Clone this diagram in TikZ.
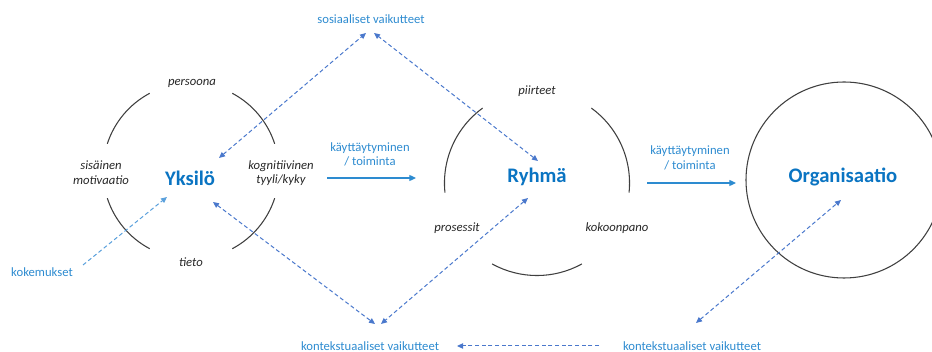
\documentclass[tikz,border=0pt]{standalone}
\usepackage{fontspec}
\setmainfont{Carlito}
\usetikzlibrary{arrows.meta}
\definecolor{titleblue}{HTML}{0A74C2}
\definecolor{labelblue}{HTML}{2D8BD0}
\definecolor{dashblue}{HTML}{4A78CC}
\definecolor{lightdash}{HTML}{5AA0DC}
\definecolor{arcgray}{HTML}{3F3F3F}
\tikzset{
  title/.style={font=\bfseries\fontsize{15.5}{18}\selectfont, text=titleblue, inner sep=0pt},
  facet/.style={font=\itshape\fontsize{9.5}{11}\selectfont, text=black!85, align=center, inner sep=0pt},
  influence/.style={font=\fontsize{9.5}{11}\selectfont, text=labelblue, align=center, inner sep=0pt},
  ring/.style={draw=arcgray, line width=0.8pt},
  flow/.style={draw=labelblue, line width=0.9pt, -{Triangle[length=5pt,width=4.5pt]}},
  link/.style={draw=dashblue, line width=0.75pt, dash pattern=on 3pt off 2pt,
    {Triangle[length=4.5pt,width=4pt]}-{Triangle[length=4.5pt,width=4pt]}},
  onelink/.style={draw=dashblue, line width=0.75pt, dash pattern=on 3pt off 2pt,
    -{Triangle[length=4.5pt,width=4pt]}},
}
\begin{document}
\begin{tikzpicture}[x=0.75pt, y=-0.75pt]
\useasboundingbox (0,0) rectangle (932,352);

% --- Yksilö: four arcs of one broken ring ---
\foreach \a in {18,118,198,298}{
  \draw[ring] (191,171) ++(\a:66pt) arc[start angle=\a, end angle=\a+44, radius=66pt];
}
\node[title] (yks) at (190,178) {Yksilö};
\node[facet] (pers) at (192,83) {persoona};
\node[facet] (tieto) at (191,262) {tieto};
\node[facet] (mot) at (101,173) {sisäinen\\motivaatio};
\node[facet] (kog) at (281,173) {kognitiivinen\\tyyli/kyky};

% --- Ryhmä: three arcs ---
\foreach \a/\b in {126/186,-6/54,241/299}{
  \draw[ring] (537,183) ++(\a:69.4pt) arc[start angle=\a, end angle=\b, radius=69.4pt];
}
\node[title] (ryh) at (537,177) {Ryhmä};
\node[facet] (piir) at (537,91) {piirteet};
\node[facet] (pros) at (457,228) {prosessit};
\node[facet] (koko) at (617,228) {kokoonpano};

% --- Organisaatio: full circle ---
\draw[ring] (844,180) circle[radius=73.5pt];
\node[title] (org) at (843,177) {Organisaatio};

% --- behaviour flows ---
\node[influence] (kt1) at (370,154.5) {käyttäytyminen\\/ toiminta};
\coordinate (f1a) at (327,178);
\coordinate (f1b) at (416,178);
\draw[flow] (f1a) -- (f1b);
\node[influence] (kt2) at (690,158) {käyttäytyminen\\/ toiminta};
\coordinate (f2a) at (647,183);
\coordinate (f2b) at (736,183);
\draw[flow] (f2a) -- (f2b);

% --- influence labels ---
\node[influence] (sos) at (371,19) {sosiaaliset vaikutteet};
\node[influence] (kon1) at (370,346) {kontekstuaaliset vaikutteet};
\node[influence] (kon2) at (692,346) {kontekstuaaliset vaikutteet};
\node[influence] (kok) at (42,272) {kokemukset};

% --- dashed influence links ---
\coordinate (sosL) at (366,33);
\coordinate (sosR) at (374,33);
\coordinate (yksA) at (219,158);
\coordinate (ryhA) at (538,161);
\coordinate (konL) at (375,324);
\coordinate (konR) at (381,324);
\coordinate (yksB) at (213,202);
\coordinate (ryhB) at (528,198);
\coordinate (konX) at (696,323);
\coordinate (orgA) at (841,200);
\coordinate (kokA) at (83,265);
\coordinate (yksC) at (167,197);
\coordinate (hStart) at (599,346);
\coordinate (hEnd) at (457,346);

\draw[link] (yksA) -- (sosL);
\draw[link] (ryhA) -- (sosR);
\draw[link] (yksB) -- (konL);
\draw[link] (ryhB) -- (konR);
\draw[link] (konX) -- (orgA);
\draw[onelink] (hStart) -- (hEnd);
\draw[onelink, draw=lightdash] (kokA) -- (yksC);
\end{tikzpicture}
\end{document}
